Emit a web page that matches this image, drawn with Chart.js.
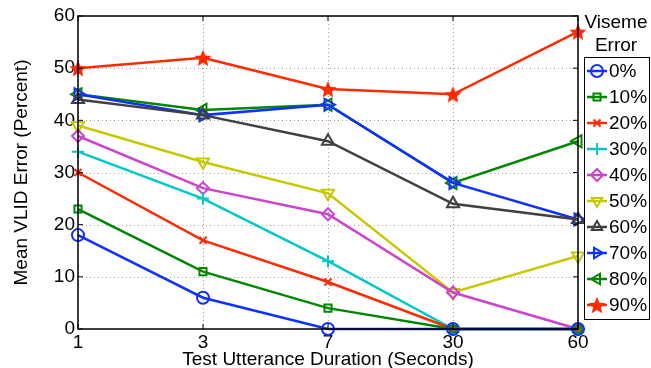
<!DOCTYPE html>
<html>
<head>
<meta charset="utf-8">
<script src="https://cdn.jsdelivr.net/npm/chart.js@4"></script>
<style>
  body { margin: 0; background: #fff; }
  #wrap { width: 651px; height: 368px; }
</style>
</head>
<body>
<div id="wrap"><canvas id="diagram" width="651" height="368"></canvas></div>
<script>
// durations on the x axis
const durations = ['1', '3', '7', '30', '60'];
const yTicks = [0, 10, 20, 30, 40, 50, 60];

// one array per viseme error level
const err0 = [18, 6, 0, 0, 0];
const err10 = [23, 11, 4, 0, 0];
const err20 = [30, 17, 9, 0, 0];
const err30 = [34, 25, 13, 0, 0];
const err40 = [37, 27, 22, 7, 0];
const err50 = [39, 32, 26, 7, 14];
const err60 = [44, 41, 36, 24, 21];
const err70 = [45, 41, 43, 28, 21];
const err80 = [45, 42, 43, 28, 36];
const err90 = [50, 52, 46, 45, 57];

const levels = ['0%', '10%', '20%', '30%', '40%', '50%', '60%', '70%', '80%', '90%'];
const seriesValues = [err0, err10, err20, err30, err40, err50, err60, err70, err80, err90];

const FONT = '"Liberation Sans", Arial, sans-serif';

/**
* Ritar en fylld femuddig stjärna på en liten canvas (används som pointStyle)
*/
function makeStar(color, r) {
    const c = document.createElement('canvas');
    const s = Math.ceil(r * 2 + 2);
    c.width = s; c.height = s;
    const g = c.getContext('2d');
    g.fillStyle = color;
    g.beginPath();
    for (let i = 0; i < 10; i++) {
        const rad = i % 2 === 0 ? r : r * 0.45;
        const a = -Math.PI / 2 + i * Math.PI / 5;
        const px = s / 2 + rad * Math.cos(a);
        const py = s / 2 + 1 + rad * Math.sin(a);
        if (i === 0) g.moveTo(px, py); else g.lineTo(px, py);
    }
    g.closePath();
    g.fill();
    return c;
}

const styles = [
    { color: '#1030ff', point: 'circle', rot: 0, r: 6 },
    { color: '#008800', point: 'rect', rot: 0, r: 5 },
    { color: '#ff2a00', point: 'crossRot', rot: 0, r: 5 },
    { color: '#00c8c8', point: 'cross', rot: 0, r: 6 },
    { color: '#cc44cc', point: 'rectRot', rot: 0, r: 6 },
    { color: '#c8c800', point: 'triangle', rot: 180, r: 7 },
    { color: '#404040', point: 'triangle', rot: 0, r: 7 },
    { color: '#1030ff', point: 'triangle', rot: 90, r: 7 },
    { color: '#008800', point: 'triangle', rot: -90, r: 7 },
    { color: '#ff2a00', point: 'star', rot: 0, r: 9 }
];

const datasets = levels.map((lv, i) => {
    const st = styles[i];
    return {
        label: lv,
        data: seriesValues[i],
        borderColor: st.color,
        backgroundColor: 'rgba(0,0,0,0)',
        borderWidth: 2.5,
        pointStyle: st.point === 'star' ? makeStar(st.color, st.r) : st.point,
        pointRotation: st.rot,
        pointRadius: st.r,
        pointBorderWidth: 2,
        pointBackgroundColor: 'rgba(0,0,0,0)',
        pointBorderColor: st.color,
        tension: 0,
        clip: false
    };
});

// prickat rutnät bakom linjerna
const gridPlugin = {
    id: 'dotgrid',
    beforeDatasetsDraw(chart) {
        const ctx = chart.ctx;
        const a = chart.chartArea;
        ctx.save();
        ctx.strokeStyle = '#a0a0a0';
        ctx.lineWidth = 1;
        ctx.setLineDash([1, 3]);
        yTicks.forEach(v => {
            const py = Math.round(chart.scales.y.getPixelForValue(v)) + 0.5;
            ctx.beginPath(); ctx.moveTo(a.left, py); ctx.lineTo(a.right, py); ctx.stroke();
        });
        durations.forEach((d, i) => {
            const px = Math.round(chart.scales.x.getPixelForValue(i)) + 0.5;
            ctx.beginPath(); ctx.moveTo(px, a.top); ctx.lineTo(px, a.bottom); ctx.stroke();
        });
        ctx.restore();
    }
};

// ram runt plotytan + egen legend med ruta
const framePlugin = {
    id: 'frame',
    afterDraw(chart) {
        const ctx = chart.ctx;
        const a = chart.chartArea;
        ctx.save();
        ctx.strokeStyle = '#000';
        ctx.lineWidth = 1.5;
        ctx.strokeRect(a.left, a.top, a.right - a.left, a.bottom - a.top);
        // ticks inåt
        const ys = chart.scales.y;
        const xs = chart.scales.x;
        ctx.lineWidth = 1;
        yTicks.forEach(v => {
            const py = ys.getPixelForValue(v);
            ctx.beginPath();
            ctx.moveTo(a.left, py); ctx.lineTo(a.left + 5, py);
            ctx.moveTo(a.right, py); ctx.lineTo(a.right - 5, py);
            ctx.stroke();
        });
        durations.forEach((d, i) => {
            const px = xs.getPixelForValue(i);
            ctx.beginPath();
            ctx.moveTo(px, a.bottom); ctx.lineTo(px, a.bottom - 5);
            ctx.moveTo(px, a.top); ctx.lineTo(px, a.top + 5);
            ctx.stroke();
        });

        // legend
        const bx = 584, by = 57, bw = 65, bh = 262;
        ctx.fillStyle = '#fff';
        ctx.fillRect(bx, by, bw, bh);
        ctx.strokeStyle = '#000';
        ctx.lineWidth = 1;
        ctx.strokeRect(bx + 0.5, by + 0.5, bw, bh);
        ctx.fillStyle = '#000';
        ctx.font = '19px ' + FONT;
        ctx.textAlign = 'center';
        ctx.textBaseline = 'middle';
        ctx.fillText('Viseme', 616, 23);
        ctx.fillText('Error', 616, 46);
        ctx.textAlign = 'left';
        chart.data.datasets.forEach((ds, i) => {
            const cy = by + 14 + i * 26;
            ctx.strokeStyle = ds.borderColor;
            ctx.lineWidth = 2.5;
            ctx.beginPath();
            ctx.moveTo(587, cy); ctx.lineTo(607, cy);
            ctx.stroke();
            ctx.fillStyle = 'rgba(0,0,0,0)';
            ctx.lineWidth = 2;
            Chart.helpers.drawPoint(ctx, {
                pointStyle: ds.pointStyle,
                rotation: ds.pointRotation,
                radius: Math.min(ds.pointRadius, 6),
                borderWidth: 2
            }, 597, cy);
            ctx.fillStyle = '#000';
            ctx.fillText(ds.label, 609, cy + 1);
        });
        ctx.restore();
    }
};

new Chart(document.getElementById('diagram').getContext('2d'), {
    type: 'line',
    data: { labels: durations, datasets: datasets },
    options: {
        responsive: false,
        animation: false,
        layout: { padding: { top: 16, right: 73, left: 10, bottom: 0 } },
        plugins: { legend: { display: false }, tooltip: { enabled: false } },
        scales: {
            x: {
                type: 'category',
                offset: false,
                grid: { display: false, drawTicks: false, tickLength: 0 },
                border: { display: false },
                ticks: { color: '#000', font: { family: FONT, size: 19 }, padding: 2, maxRotation: 0 },
                title: { display: true, text: 'Test Utterance Duration (Seconds)', color: '#000',
                         font: { family: FONT, size: 19, lineHeight: 1 }, padding: { top: 0, bottom: -1 } },
                afterFit(scale) { scale.height = 39; }
            },
            y: {
                min: 0, max: 60,
                afterBuildTicks(scale) { scale.ticks = yTicks.map(v => ({ value: v })); },
                grid: { display: false, drawTicks: false, tickLength: 0 },
                border: { display: false },
                ticks: { color: '#000', font: { family: FONT, size: 19 }, padding: 3 },
                title: { display: true, text: 'Mean VLID Error (Percent)', color: '#000',
                         font: { family: FONT, size: 19 }, padding: { top: 0, bottom: 4 } },
                afterFit(scale) { scale.width = 68; }
            }
        }
    },
    plugins: [gridPlugin, framePlugin]
});
</script>
</body>
</html>
